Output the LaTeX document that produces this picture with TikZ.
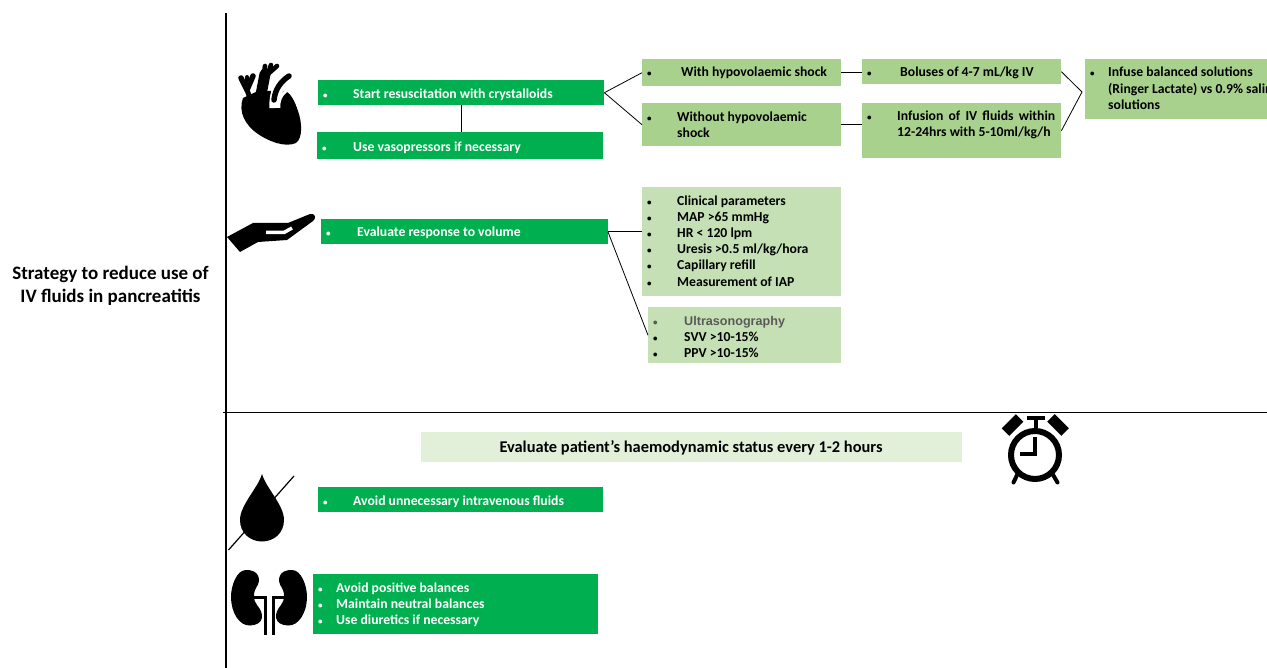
\documentclass[tikz,border=0pt]{standalone}
\usepackage{fontspec}
\setmainfont{Carlito}
\newfontfamily\ultrafont{Liberation Sans}
\usetikzlibrary{shapes}
\definecolor{darkgreen}{HTML}{00B050}
\definecolor{midgreen}{HTML}{A9D18E}
\definecolor{palegreen}{HTML}{C5E0B4}
\definecolor{banner}{HTML}{E2F0D9}
\newcommand{\itm}[1]{\makebox[#1pt][l]{\fontsize{9}{9}\selectfont\textbullet}}
\newcommand{\tal}[1]{\rule{0pt}{#1pt}}
\newcommand{\dep}[1]{\rule[-#1pt]{0pt}{#1pt}}
\tikzset{
	bx/.style 2 args={rectangle,anchor=north west,inner xsep=5pt,inner ysep=0pt,minimum height=#2,text width=#1-10,align=flush left,font=\fontsize{13.7}{16.2}\selectfont\bfseries},
	gbx/.style 2 args={bx={#1}{#2},fill=darkgreen,text=white},
	mbx/.style 2 args={bx={#1}{#2},fill=midgreen,text=black},
	pbx/.style 2 args={bx={#1}{#2},fill=palegreen,text=black},
	link/.style={draw=black,line width=0.8pt},
	axis/.style={draw=black,line width=1.3pt},
}
\begin{document}
\begin{tikzpicture}[x=1pt,y=-1pt]
	\useasboundingbox (0,0) rectangle (1267,668);
	\clip (0,0) rectangle (1267,668);
	
	%AXES
	\coordinate (axtop) at (226,13);
	\coordinate (axbot) at (226,668);
	\coordinate (axleft) at (223,412);
	\coordinate (axright) at (1267,412);
	\draw[axis] (axtop)--(axbot);
	\draw[link] (axleft)--(axright);
	\node[align=flush center,font=\fontsize{19}{23}\selectfont\bfseries] (title) at (110.5,286) {Strategy to reduce use of\\IV fluids in pancreatitis};
	
	%TOP
	\node[gbx={286}{25}] (start) at (318,80) {\tal{13}\itm{30}Start resuscitation with crystalloids};
	\node[gbx={286}{27}] (vaso) at (317,132) {\tal{13}\itm{31}Use vasopressors if necessary};
	\node[mbx={199}{27}] (with) at (642,59) {\itm{34}With hypovolaemic shock};
	\node[mbx={199}{43}] (without) at (642,103) {\itm{30}Without hypovolaemic\\\hspace*{30pt}shock};
	\node[mbx={199}{25}] (bolus) at (862,59) {\tal{11}\itm{33}Boluses of 4-7 mL/kg IV};
	\node[mbx={199}{55}] (infusion) at (862,103) {\itm{30}\makebox[158pt][s]{Infusion of IV fluids within}\\\hspace*{30pt}12-24hrs with 5-10ml/kg/h\dep{14}};
	\node[mbx={230}{60}] (infuse) at (1085,59) {\itm{18}Infuse balanced solutions\\\hspace*{18pt}(Ringer Lactate) vs 0.9\% saline\\\hspace*{18pt}solutions\dep{2}};
	\coordinate (merge) at (1082,92);
	%
	\draw[link] (start.south)--(start.south|-vaso.north);
	\draw[link] (start.east)--(with.west);
	\draw[link] (start.east)--(without.west);
	\draw[link] (with.east)--(with.east-|bolus.west);
	\draw[link] (without.east)--(without.east-|infusion.west);
	\draw[link] (bolus.east)--(merge);
	\draw[link] (infusion.east)--(merge);
	
	%MIDDLE
	\node[gbx={286.5}{25}] (volume) at (321,219) {\tal{12}\itm{31}Evaluate response to volume};
	\node[pbx={199}{109}] (clinical) at (642,187) {\itm{30}Clinical parameters\\\itm{30}MAP >65 mmHg\\\itm{30}HR < 120 lpm\\\itm{30}Uresis >0.5 ml/kg/hora\\\itm{30}Capillary refill\\\itm{30}Measurement of IAP\dep{2}};
	\node[pbx={193}{56}] (ultra) at (648,307) {\tal{13}\textcolor{black!65}{\itm{31}{\ultrafont\fontsize{12.6}{16.2}\selectfont Ultrasonography}}\\\itm{31}SVV >10-15\%\\\itm{31}PPV >10-15\%};
	%
	\draw[link] (volume.east)--(volume.east-|clinical.west);
	\draw[link] (volume.east)--(ultra.west);
	
	%BOTTOM
	\node[rectangle,anchor=north west,inner sep=0pt,fill=banner,minimum width=541,minimum height=30] (status) at (421,432) {};
	\node[font=\fontsize{16.4}{18}\selectfont\bfseries] (statustext) at (691,447.5) {Evaluate patient’s haemodynamic status every 1-2 hours};
	\node[gbx={285}{25}] (avoid) at (318,487) {\tal{14}\itm{30}Avoid unnecessary intravenous fluids};
	\node[gbx={285}{60}] (balance) at (313,574) {\tal{11}\itm{18}Avoid positive balances\\\itm{18}Maintain neutral balances\\\itm{18}Use diuretics if necessary};
	
	%HEART
	\fill (243,98) .. controls (238,112) and (245,125) .. (258,134) .. controls (268,141) and (285,148) .. (296,143) .. controls (303,138) and (302,122) .. (298,111) .. controls (295,102) and (291,93) .. (285,91)--(258,91)--cycle;
	\draw[line width=11pt,line cap=round] (260,100)--(265,74);
	\draw[line width=4.6pt,line cap=round] (264,74)--(265,66);
	\draw[line width=4.6pt,line cap=round] (268,74)--(271,65);
	\draw[line width=4.6pt,line cap=round] (268,74)--(277,66);
	\draw[line width=5.5pt,line cap=round,line join=round] (241,78)--(247,90)--(253,76);
	\draw[line width=4pt,line cap=round] (247,84)--(247,77);
	\draw[line width=5pt] (247,90)--(250,98);
	\draw[white,line width=11pt] (275,108) .. controls (274,92) and (280,80) .. (292,74);
	\draw[line width=5.5pt,line cap=round] (274,100) .. controls (275,90) and (280,82) .. (289,76);
	\draw[white,line width=3pt] (279,103) .. controls (280,96) and (284,92) .. (289,89);
	
	%HAND
	\fill (227,237)--(253,223)--(288,223)--(310,214) .. controls (315,213) and (317,218) .. (313,221)--(287,240)--(258,242)--(240,252)--cycle;
	\draw[white,line width=3.5pt] (266,232.5)--(284,232.5)--(292,228);
	
	%DROP
	\fill (262,474) .. controls (258,488) and (240,505) .. (240,520) .. controls (240,533) and (250,541.5) .. (262,541.5) .. controls (274,541.5) and (284,533) .. (284,520) .. controls (284,505) and (266,488) .. (262,474)--cycle;
	\draw[line width=1.2pt] (228.5,550)--(294,476);
	
	%KIDNEYS
	\foreach \s in {-1,1} {
		\begin{scope}[xshift=269pt,xscale=\s]
			\fill (-23,570) .. controls (-32,570) and (-38,585) .. (-38,597) .. controls (-38,612) and (-30,626) .. (-19,625.5) .. controls (-5,625) and (-4,614) .. (-12,605) .. controls (-16,600) and (-16,593) .. (-13,588) .. controls (-7,580) and (-10,569.5) .. (-23,570)--cycle;
			\draw[line width=3pt] (-15,597)--(-4,597)--(-4,635);
		\end{scope}
	}
	
	%CLOCK
	\draw[line width=6pt] (1035,455) circle (24);
	\draw[line width=3.5pt] (1035,437)--(1035,454)--(1020,454);
	\draw[line width=4pt] (1036,418)--(1036,430);
	\draw[line width=3.2pt] (1027,418)--(1045,418);
	\draw[line width=4pt,line cap=round] (1018,473)--(1013.5,482.5);
	\draw[line width=4pt,line cap=round] (1052,473)--(1057.5,482.5);
	\fill[rotate around={45:(1012.5,425)}] (1002.5,419.7) rectangle (1022.5,430.3);
	\fill[rotate around={-45:(1058,425)}] (1048,419.7) rectangle (1068,430.3);
	
\end{tikzpicture}
\end{document}
